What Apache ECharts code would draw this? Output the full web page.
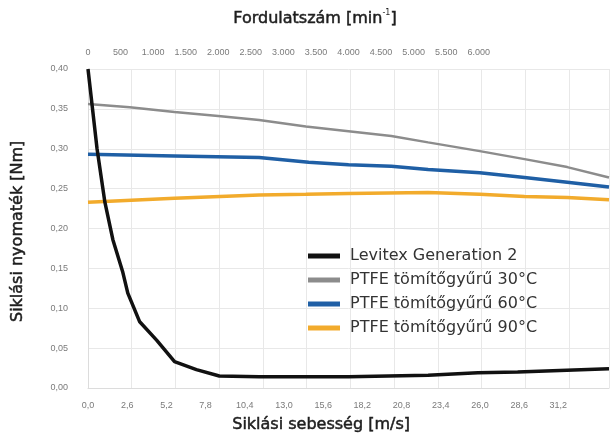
<!DOCTYPE html>
<html>
<head>
<meta charset="utf-8">
<script src="https://cdn.jsdelivr.net/npm/echarts@6/dist/echarts.min.js"></script>
<style>
  html, body { margin: 0; padding: 0; background: #fff; }
  #chart { width: 612px; height: 443px; }
</style>
</head>
<body>
<div id="chart"></div>
<script>
  // sebesség [m/s] és nyomaték [Nm] értékek
  const seriesNames = ['Levitex Generation 2', 'PTFE tömítőgyűrű 30°C', 'PTFE tömítőgyűrű 60°C', 'PTFE tömítőgyűrű 90°C'];

  const levitexSpeed = [0, 0.6, 1.12, 1.65, 2.31, 2.64, 3.43, 4.55, 5.74, 7.19, 8.71, 11.35, 17.28, 22.56, 25.86, 28.5, 34.56];
  const levitexTorque = [0.400, 0.300, 0.233, 0.186, 0.145, 0.119, 0.083, 0.060, 0.033, 0.023, 0.015, 0.014, 0.014, 0.016, 0.019, 0.020, 0.024];

  const ptfe30Speed = [0, 2.77, 5.74, 8.64, 11.35, 14.45, 17.28, 20.12, 22.56, 25.99, 28.96, 31.79, 34.56];
  const ptfe30Torque = [0.356, 0.352, 0.346, 0.341, 0.336, 0.328, 0.322, 0.316, 0.308, 0.297, 0.287, 0.277, 0.264];

  const ptfe60Speed = [0, 5.74, 11.35, 14.64, 17.28, 20.12, 22.56, 25.99, 28.96, 31.79, 34.56];
  const ptfe60Torque = [0.293, 0.291, 0.289, 0.283, 0.280, 0.278, 0.274, 0.270, 0.264, 0.258, 0.252];

  const ptfe90Speed = [0, 5.74, 11.35, 14.45, 17.28, 22.56, 25.99, 28.96, 31.79, 34.56];
  const ptfe90Torque = [0.233, 0.238, 0.242, 0.243, 0.244, 0.245, 0.243, 0.240, 0.239, 0.236];

  const seriesColors = ['#111111', '#8c8c8c', '#1f5fa5', '#f2ab2c'];
  const seriesWidths = [3.5, 2.5, 3.5, 3.5];

  const speedMax = 34.56;      // m/s a jobb szélen
  const speedStep = 2.6;
  const speedLabelMax = 31.2;
  const rpmMax = 8000;
  const rpmStep = 500;
  const rpmLabelMax = 6000;

  const FONT = '"DejaVu Sans", "Open Sans", sans-serif';

  function pairs(xs, ys) {
    return xs.map(function(x, i) { return [x, ys[i]]; });
  }

  // 1500 -> "1.500"
  function rpmText(v) {
    if (v < 1000) return String(v);
    return Math.floor(v / 1000) + '.' + String(v % 1000).padStart(3, '0');
  }

  const speedData = [
    pairs(levitexSpeed, levitexTorque),
    pairs(ptfe30Speed, ptfe30Torque),
    pairs(ptfe60Speed, ptfe60Torque),
    pairs(ptfe90Speed, ptfe90Torque)
  ];

  const chart = echarts.init(document.getElementById('chart'), null, { renderer: 'canvas' });

  const tickLabel = { color: '#7a7a7a', fontSize: 9, fontFamily: '"Liberation Sans", sans-serif' };
  // kicsit vastagított betű a címekhez
  const titleStyle = { fill: '#1e1e1e', fontSize: 16, fontFamily: FONT, stroke: '#1e1e1e', lineWidth: 0.5 };

  const option = {
    backgroundColor: '#ffffff',
    animation: false,
    grid: { left: 88, right: 0, top: 69, bottom: 55 },
    legend: {
      orient: 'vertical',
      left: 303,
      top: 243,
      icon: 'rect',
      itemWidth: 32,
      itemHeight: 5,
      itemGap: 8,
      data: seriesNames,
      textStyle: {
        color: '#333',
        fontSize: 16,
        fontFamily: FONT,
        lineHeight: 16,
        padding: [0, 0, 0, 5]
      }
    },
    graphic: [
      {
        type: 'text', left: 233, top: 9,
        style: {
          text: '{a|Fordulatszám [min}{s|-1}{a|]}',
          rich: {
            a: { fontSize: 16, fontFamily: FONT, fill: '#1e1e1e', stroke: '#1e1e1e', lineWidth: 0.5, lineHeight: 20 },
            s: { fontSize: 8, fontFamily: FONT, fill: '#1e1e1e', verticalAlign: 'top', lineHeight: 20, padding: [0, 0, 6, 0] }
          }
        }
      },
      {
        type: 'text', top: 417, left: 232,
        style: Object.assign({ text: 'Siklási sebesség [m/s]' }, titleStyle)
      },
      {
        type: 'text', x: 10, y: 322, rotation: Math.PI / 2,
        style: Object.assign({ text: 'Siklási nyomaték [Nm]' }, titleStyle)
      }
    ],
    xAxis: [
      {
        type: 'value', position: 'bottom', min: 0, max: speedMax, interval: speedStep,
        axisLine: { show: true, lineStyle: { color: '#dcdcdc' } },
        axisTick: { show: false },
        splitLine: { show: false },
        axisLabel: Object.assign({
          margin: 13, showMaxLabel: false,
          formatter: function(v) {
            if (v > speedLabelMax + 0.01) return '';
            return v.toFixed(1).replace('.', ',');
          }
        }, tickLabel)
      },
      {
        type: 'value', position: 'top', min: 0, max: rpmMax, interval: rpmStep,
        axisLine: { show: false },
        axisTick: { show: false },
        splitLine: { show: false },
        axisLabel: Object.assign({
          margin: 12,
          formatter: function(v) {
            if (v > rpmLabelMax) return '';
            return rpmText(v);
          }
        }, tickLabel)
      },
      {
        // a rácsvonalak az eredetin nem esnek egybe a feliratokkal
        type: 'value', position: 'bottom', min: 0, max: 524 / 44, interval: 1,
        axisLine: { show: false },
        axisTick: { show: false },
        axisLabel: { show: false },
        splitLine: { show: true, lineStyle: { color: '#e8e8e8', width: 1 } }
      }
    ],
    yAxis: {
      type: 'value', min: 0, max: 0.4, interval: 0.05,
      axisLine: { show: true, lineStyle: { color: '#dcdcdc' } },
      axisTick: { show: false },
      splitLine: { show: true, lineStyle: { color: '#e8e8e8' } },
      axisLabel: Object.assign({
        margin: 20,
        formatter: function(v) { return v.toFixed(2).replace('.', ','); }
      }, tickLabel)
    },
    series: seriesNames.map(function(name, i) {
      return {
        name: name,
        type: 'line',
        xAxisIndex: 0,
        data: speedData[i],
        symbol: 'none',
        color: seriesColors[i],
        lineStyle: { color: seriesColors[i], width: seriesWidths[i] },
        z: 10 - i
      };
    }).reverse()
  };

  chart.setOption(option);
</script>
</body>
</html>
